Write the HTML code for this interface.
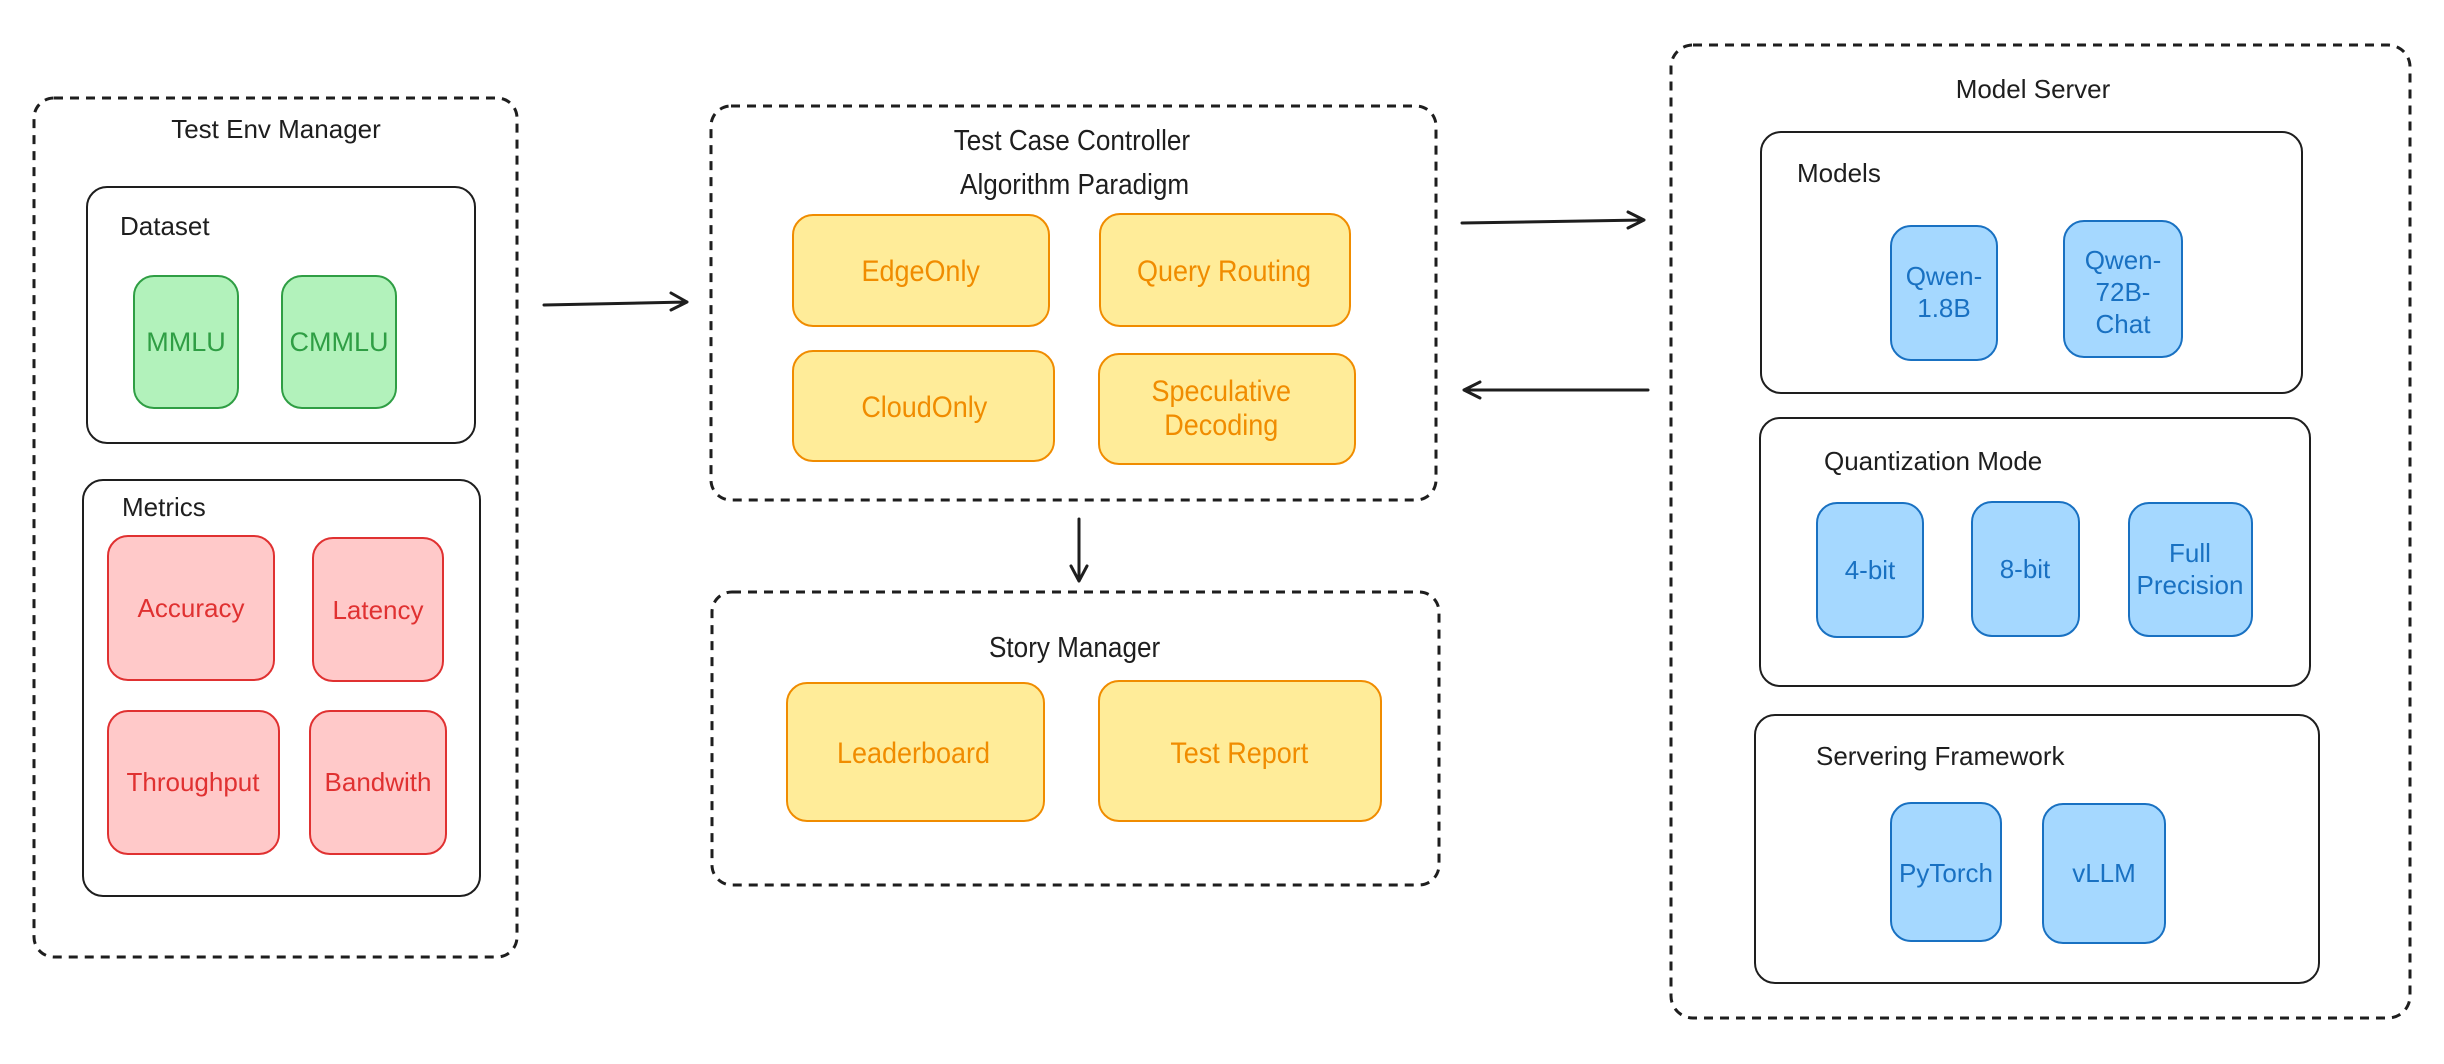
<!DOCTYPE html>
<html><head><meta charset="utf-8"><style>
html,body{margin:0;padding:0;background:#fff}
svg{display:block}
text{font-family:"Liberation Sans",sans-serif}
.t{font-size:26px;fill:#1e1e1e}
.tc{font-size:29px;fill:#1e1e1e}
.g{fill:#b2f2bb;stroke:#2f9e44;stroke-width:2}
.gt{fill:#2f9e44;font-size:27px}
.r{fill:#ffc9c9;stroke:#e03131;stroke-width:2}
.rt{fill:#e03131;font-size:26px}
.y{fill:#ffec99;stroke:#f08c00;stroke-width:2}
.yt{fill:#f08c00;font-size:30px}
.b{fill:#a5d8ff;stroke:#1971c2;stroke-width:2}
.bt{fill:#1971c2;font-size:26px}
.d{fill:none;stroke:#1e1e1e;stroke-width:3;stroke-dasharray:9 7}
.s{fill:none;stroke:#1e1e1e;stroke-width:2}
.a{fill:none;stroke:#1e1e1e;stroke-width:3;stroke-linecap:round;stroke-linejoin:round}
</style></head><body>
<svg width="2444" height="1064" viewBox="0 0 2444 1064" xmlns="http://www.w3.org/2000/svg">
<!-- Left -->
<rect class="d" x="34" y="98" width="483" height="859" rx="20"/>
<text class="t" x="276" y="138" text-anchor="middle">Test Env Manager</text>
<rect class="s" x="87" y="187" width="388" height="256" rx="20"/>
<text class="t" x="120" y="235">Dataset</text>
<rect class="g" x="134" y="276" width="104" height="132" rx="20"/>
<text class="gt" x="186" y="351" text-anchor="middle">MMLU</text>
<rect class="g" x="282" y="276" width="114" height="132" rx="20"/>
<text class="gt" x="339" y="351" text-anchor="middle">CMMLU</text>
<rect class="s" x="83" y="480" width="397" height="416" rx="20"/>
<text class="t" x="122" y="516">Metrics</text>
<rect class="r" x="108" y="536" width="166" height="144" rx="20"/>
<text class="rt" x="191" y="617" text-anchor="middle">Accuracy</text>
<rect class="r" x="313" y="538" width="130" height="143" rx="20"/>
<text class="rt" x="378" y="619" text-anchor="middle">Latency</text>
<rect class="r" x="108" y="711" width="171" height="143" rx="20"/>
<text class="rt" x="193" y="791" text-anchor="middle">Throughput</text>
<rect class="r" x="310" y="711" width="136" height="143" rx="20"/>
<text class="rt" x="378" y="791" text-anchor="middle">Bandwith</text>
<path class="a" d="M544 305 L687 302 M671 293 L687 302 L671 310"/>
<!-- Middle -->
<rect class="d" x="711" y="106" width="725" height="394" rx="20"/>
<rect class="y" x="793" y="215" width="256" height="111" rx="20"/>
<rect class="y" x="1100" y="214" width="250" height="112" rx="20"/>
<rect class="y" x="793" y="351" width="261" height="110" rx="20"/>
<rect class="y" x="1099" y="354" width="256" height="110" rx="20"/>
<rect class="d" x="712" y="592" width="727" height="293" rx="20"/>
<rect class="y" x="787" y="683" width="257" height="138" rx="20"/>
<rect class="y" x="1099" y="681" width="282" height="140" rx="20"/>
<g transform="scale(0.9,1)">
<text class="tc" x="1191" y="150" text-anchor="middle">Test Case Controller</text>
<text class="tc" x="1194" y="194" text-anchor="middle">Algorithm Paradigm</text>
<text class="yt" x="1023" y="281" text-anchor="middle">EdgeOnly</text>
<text class="yt" x="1360" y="281" text-anchor="middle">Query Routing</text>
<text class="yt" x="1027" y="417" text-anchor="middle">CloudOnly</text>
<text class="yt" x="1357" y="401" text-anchor="middle">Speculative</text>
<text class="yt" x="1357" y="435" text-anchor="middle">Decoding</text>
<text class="tc" x="1194" y="657" text-anchor="middle">Story Manager</text>
<text class="yt" x="1015" y="763" text-anchor="middle">Leaderboard</text>
<text class="yt" x="1377" y="763" text-anchor="middle">Test Report</text>
</g>
<path class="a" d="M1079 519 L1079 581 M1071 566 L1079 581 L1087 566"/>
<path class="a" d="M1462 223 L1644 220 M1628 212 L1644 220 L1628 228"/>
<path class="a" d="M1648 390 L1464 390 M1480 382 L1464 390 L1480 398"/>
<!-- Right -->
<rect class="d" x="1671" y="45" width="739" height="973" rx="22"/>
<text class="t" x="2033" y="98" text-anchor="middle">Model Server</text>
<rect class="s" x="1761" y="132" width="541" height="261" rx="20"/>
<text class="t" x="1797" y="182">Models</text>
<rect class="b" x="1891" y="226" width="106" height="134" rx="20"/>
<text class="bt" x="1944" y="285" text-anchor="middle">Qwen-</text>
<text class="bt" x="1944" y="317" text-anchor="middle">1.8B</text>
<rect class="b" x="2064" y="221" width="118" height="136" rx="20"/>
<text class="bt" x="2123" y="269" text-anchor="middle">Qwen-</text>
<text class="bt" x="2123" y="301" text-anchor="middle">72B-</text>
<text class="bt" x="2123" y="333" text-anchor="middle">Chat</text>
<rect class="s" x="1760" y="418" width="550" height="268" rx="20"/>
<text class="t" x="1824" y="470">Quantization Mode</text>
<rect class="b" x="1817" y="503" width="106" height="134" rx="20"/>
<text class="bt" x="1870" y="579" text-anchor="middle">4-bit</text>
<rect class="b" x="1972" y="502" width="107" height="134" rx="20"/>
<text class="bt" x="2025" y="578" text-anchor="middle">8-bit</text>
<rect class="b" x="2129" y="503" width="123" height="133" rx="20"/>
<text class="bt" x="2190" y="562" text-anchor="middle">Full</text>
<text class="bt" x="2190" y="594" text-anchor="middle">Precision</text>
<rect class="s" x="1755" y="715" width="564" height="268" rx="20"/>
<text class="t" x="1816" y="765">Servering Framework</text>
<rect class="b" x="1891" y="803" width="110" height="138" rx="20"/>
<text class="bt" x="1946" y="882" text-anchor="middle">PyTorch</text>
<rect class="b" x="2043" y="804" width="122" height="139" rx="20"/>
<text class="bt" x="2104" y="882" text-anchor="middle">vLLM</text>
</svg>
</body></html>
